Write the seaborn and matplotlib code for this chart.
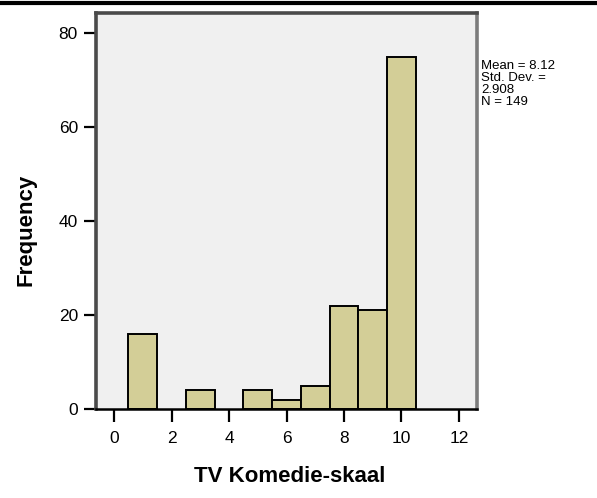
import numpy as np
import pandas as pd
import matplotlib
matplotlib.use("Agg")
import matplotlib.pyplot as plt
from matplotlib.lines import Line2D
import seaborn as sns

# ---- data ----
scores = [1, 2, 3, 4, 5, 6, 7, 8, 9, 10]
counts = [16, 0, 4, 0, 4, 2, 5, 22, 21, 75]
xticks = [0, 2, 4, 6, 8, 10, 12]
yticks = [0, 20, 40, 60, 80]
stats_lines = ["Mean = 8.12", "Std. Dev. =", "2.908", "N = 149"]
x_label = "TV Komedie-skaal"
y_label = "Frequency"

sns.set_style("white")
plt.rcParams["font.family"] = ["Liberation Sans", "DejaVu Sans"]
plt.rcParams["text.color"] = "black"

W, H = 597, 498
fig = plt.figure(figsize=(W / 100, H / 100), dpi=100)
ax = fig.add_axes([96 / W, 1 - 409 / H, (477 - 96) / W, (409 - 13) / H])
ax.set_facecolor("#f0f0f0")

df = pd.DataFrame({"score": np.repeat(scores, counts)})
sns.histplot(data=df, x="score", discrete=True,
             color="#d3ce97", edgecolor="black", linewidth=1.4,
             alpha=1, ax=ax)
for p in ax.patches:
    if p.get_height() == 0:
        p.set_visible(False)

ax.set_xlim(-0.63, 12.63)
ax.set_ylim(0, 84.3)
ax.set_xticks(xticks)
ax.set_yticks(yticks)
ax.set_xticklabels([str(v) for v in xticks])
ax.set_yticklabels([str(v) for v in yticks])
ax.tick_params(axis="both", bottom=True, left=True, direction="out",
               length=9, width=1.6, color="black", labelsize=12.5,
               labelcolor="black")
ax.tick_params(axis="x", pad=7)
ax.tick_params(axis="y", pad=4)
ax.set_xlabel("")
ax.set_ylabel("")

for side in ["left", "top"]:
    ax.spines[side].set_color("#4a4a4a")
    ax.spines[side].set_linewidth(2.6)
ax.spines["right"].set_color("#7c7c7c")
ax.spines["right"].set_linewidth(2.6)
ax.spines["bottom"].set_color("black")
ax.spines["bottom"].set_linewidth(1.8)

fig.text(290 / W, 1 - 476 / H, x_label, ha="center", va="center",
         fontsize=16, fontweight="bold", color="black")
fig.text(26 / W, 1 - 230 / H, y_label, ha="center", va="center",
         rotation=90, fontsize=16, fontweight="bold", color="black")

stat_y = [66, 78, 90, 102]
for line, yy in zip(stats_lines, stat_y):
    fig.text(481 / W, 1 - yy / H, line, ha="left", va="center",
             fontsize=9.5, color="black")

fig.add_artist(Line2D([0, 1], [1 - 3 / H, 1 - 3 / H], color="black",
                      linewidth=3, transform=fig.transFigure))

fig.savefig("out.png", dpi=100)
